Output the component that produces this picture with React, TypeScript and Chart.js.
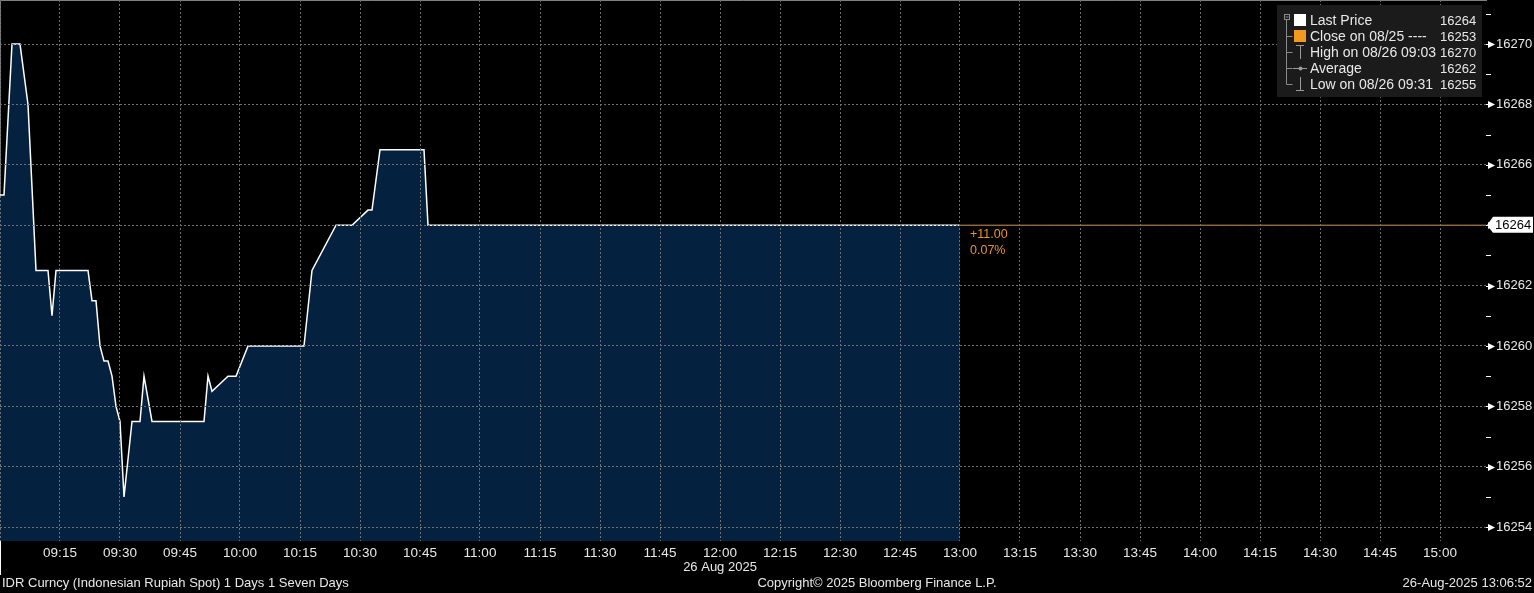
import React, { useEffect, useRef } from "react";
import { Chart, registerables } from "chart.js";

Chart.register(...registerables);

// ---- data ----
const times = [
  "09:00", "09:01", "09:03", "09:05", "09:07", "09:09", "09:12", "09:13", "09:14", "09:22",
  "09:23", "09:24", "09:25", "09:26", "09:27", "09:28", "09:29", "09:30", "09:31", "09:33",
  "09:35", "09:36", "09:38", "09:51", "09:52", "09:53", "09:57", "09:59", "10:02", "10:16",
  "10:18", "10:24", "10:28", "10:32", "10:33", "10:35", "10:46", "10:47", "13:00",
];
const prices = [
  16265, 16265, 16270, 16270, 16268, 16262.5, 16262.5, 16261, 16262.5, 16262.5,
  16261.5, 16261.5, 16260, 16259.5, 16259.5, 16259, 16258, 16257.5, 16255, 16257.5,
  16257.5, 16259, 16257.5, 16257.5, 16259, 16258.5, 16259, 16259, 16260, 16260,
  16262.5, 16264, 16264, 16264.5, 16264.5, 16266.5, 16266.5, 16264, 16264,
];
const xTickLabels = [
  "09:00", "09:15", "09:30", "09:45", "10:00", "10:15", "10:30", "10:45", "11:00", "11:15",
  "11:30", "11:45", "12:00", "12:15", "12:30", "12:45", "13:00", "13:15", "13:30", "13:45",
  "14:00", "14:15", "14:30", "14:45", "15:00",
];
const yTickValues = [16254, 16256, 16258, 16260, 16262, 16264, 16266, 16268, 16270];
const yMinorTickValues = [16255, 16257, 16259, 16261, 16263, 16265, 16267, 16269, 16271];
const legendLabels = ["Last Price", "Close on 08/25 ----", "High on 08/26 09:03", "Average", "Low on 08/26 09:31"];
const legendValues = ["16264", "16253", "16270", "16262", "16255"];
const lastPrice = 16264;
const changeLabel = "+11.00";
const pctLabel = "0.07%";
const dateLabel = "26 Aug 2025";
const dateLabelAt = "12:00";
const footerLeft = "IDR Curncy (Indonesian Rupiah Spot) 1 Days 1 Seven Days";
const footerCenter = "Copyright\u00A9 2025 Bloomberg Finance L.P.";
const footerRight = "26-Aug-2025 13:06:52";

// ---- styling / scale config ----
const X_MIN = 0;
const X_MAX = 371.5;
const Y_MIN = 16253.54;
const Y_MAX = 16271.46;
const FONT = '"Liberation Sans", Arial, sans-serif';
const TXT = "#e8e8e8";
const GRID = "#707070";
const ORANGE = "#e8922c";
const FILL = "#04213f";

const toMin = (t: string) => {
  const [h, m] = t.split(":").map(Number);
  return h * 60 + m - 9 * 60;
};
const fmtMin = (v: number) => {
  const tot = v + 9 * 60;
  const h = Math.floor(tot / 60);
  const m = Math.round(tot % 60);
  return `${String(h).padStart(2, "0")}:${String(m).padStart(2, "0")}`;
};

const overlay = {
  id: "bbgOverlay",
  afterDraw(chart: any) {
    const ctx: CanvasRenderingContext2D = chart.ctx;
    const { left, right, top, bottom } = chart.chartArea;
    const xs = chart.scales.x;
    const ys = chart.scales.y;
    const W = chart.width;
    ctx.save();

    // y-axis arrow markers and minor ticks
    ctx.fillStyle = "#fff";
    ctx.strokeStyle = "#fff";
    ctx.lineWidth = 1;
    yTickValues.forEach((v) => {
      const py = Math.round(ys.getPixelForValue(v)) + 0.5;
      ctx.beginPath();
      ctx.moveTo(right, py);
      ctx.lineTo(right + 3, py);
      ctx.stroke();
      ctx.beginPath();
      ctx.moveTo(right + 2, py - 3.5);
      ctx.lineTo(right + 9, py);
      ctx.lineTo(right + 2, py + 3.5);
      ctx.closePath();
      ctx.fill();
    });
    yMinorTickValues.forEach((v) => {
      const py = Math.round(ys.getPixelForValue(v)) + 0.5;
      if (py < top || py > bottom) return;
      ctx.beginPath();
      ctx.moveTo(right, py);
      ctx.lineTo(right + 5, py);
      ctx.stroke();
    });

    // last price tag
    const lp = ys.getPixelForValue(lastPrice);
    ctx.fillStyle = "#fff";
    ctx.beginPath();
    ctx.moveTo(right + 1, lp);
    ctx.lineTo(right + 7, lp - 8.5);
    ctx.lineTo(W - 1, lp - 8.5);
    ctx.lineTo(W - 1, lp + 7.5);
    ctx.lineTo(right + 7, lp + 7.5);
    ctx.closePath();
    ctx.fill();
    ctx.fillStyle = "#000";
    ctx.font = `13px ${FONT}`;
    ctx.textBaseline = "middle";
    ctx.textAlign = "left";
    ctx.fillText(String(lastPrice), right + 9, lp);

    // change labels
    const endX = xs.getPixelForValue(toMin(times[times.length - 1]));
    ctx.fillStyle = ORANGE;
    ctx.font = `12.5px ${FONT}`;
    ctx.fillText(changeLabel, endX + 10, lp + 9);
    ctx.fillText(pctLabel, endX + 10, lp + 25);

    // day separator below axis
    ctx.strokeStyle = "#fff";
    ctx.beginPath();
    ctx.moveTo(left + 0.5, bottom);
    ctx.lineTo(left + 0.5, bottom + 34);
    ctx.stroke();

    // date label
    ctx.fillStyle = TXT;
    ctx.font = `13px ${FONT}`;
    ctx.textAlign = "center";
    ctx.fillText(dateLabel, xs.getPixelForValue(toMin(dateLabelAt)), bottom + 26);

    // footer
    const fy = bottom + 42;
    ctx.textAlign = "left";
    ctx.fillText(footerLeft, 2, fy);
    ctx.textAlign = "center";
    ctx.fillText(footerCenter, 877, fy);
    ctx.textAlign = "right";
    ctx.fillText(footerRight, W - 2, fy);

    // legend box
    const bx = right - 209;
    const by = top + 5;
    const bw = 205;
    const bh = 92;
    ctx.fillStyle = "#1b1b1b";
    ctx.fillRect(bx, by, bw, bh);
    const rowY = (i: number) => by + 15 + i * 16;
    const treeX = bx + 9.5;
    const iconX = bx + 23;
    ctx.strokeStyle = "#8a8a8a";
    ctx.lineWidth = 1;
    // collapse box
    ctx.strokeRect(bx + 7.5, rowY(0) - 5.5, 5, 5);
    ctx.beginPath();
    ctx.moveTo(bx + 8.5, rowY(0) - 3);
    ctx.lineTo(bx + 11.5, rowY(0) - 3);
    ctx.stroke();
    ctx.beginPath();
    ctx.moveTo(treeX, rowY(0) - 0.5);
    ctx.lineTo(treeX, rowY(4) + 0.5);
    ctx.stroke();
    for (let i = 1; i < 5; i++) {
      const ry = Math.round(rowY(i)) + 0.5;
      ctx.beginPath();
      ctx.moveTo(treeX, ry);
      ctx.lineTo(treeX + 6, ry);
      ctx.stroke();
    }
    // icons
    ctx.fillStyle = "#ffffff";
    ctx.fillRect(iconX - 6, rowY(0) - 6, 12, 12);
    ctx.fillStyle = "#f39a1e";
    ctx.fillRect(iconX - 6, rowY(1) - 6, 12, 12);
    ctx.strokeStyle = "#9a9a9a";
    // high
    ctx.beginPath();
    ctx.moveTo(iconX - 4, rowY(2) - 6.5);
    ctx.lineTo(iconX + 4, rowY(2) - 6.5);
    ctx.moveTo(iconX + 0.5, rowY(2) - 6.5);
    ctx.lineTo(iconX + 0.5, rowY(2) + 7);
    ctx.stroke();
    // average
    ctx.beginPath();
    ctx.moveTo(iconX - 7, rowY(3) + 0.5);
    ctx.lineTo(iconX + 7, rowY(3) + 0.5);
    ctx.stroke();
    ctx.fillStyle = "#9a9a9a";
    ctx.beginPath();
    ctx.arc(iconX + 0.5, rowY(3) + 0.5, 2, 0, Math.PI * 2);
    ctx.fill();
    // low
    ctx.beginPath();
    ctx.moveTo(iconX + 0.5, rowY(4) - 7);
    ctx.lineTo(iconX + 0.5, rowY(4) + 6.5);
    ctx.moveTo(iconX - 4, rowY(4) + 6.5);
    ctx.lineTo(iconX + 4, rowY(4) + 6.5);
    ctx.stroke();
    // texts
    ctx.fillStyle = TXT;
    ctx.textAlign = "left";
    ctx.textBaseline = "middle";
    legendLabels.forEach((l, i) => {
      ctx.font = `14px ${FONT}`;
      ctx.fillText(l, bx + 33, rowY(i) + 1);
      ctx.font = `13px ${FONT}`;
      ctx.fillText(legendValues[i], bx + 163, rowY(i) + 1);
    });

    ctx.restore();
  },
};

export default function App() {
  const ref = useRef<HTMLCanvasElement | null>(null);

  useEffect(() => {
    document.body.style.margin = "0";
    document.body.style.background = "#000";
    const canvas = ref.current;
    if (!canvas) return;

    const mainData = times.map((t, i) => ({ x: toMin(t), y: prices[i] }));
    const lastLine = [
      { x: toMin(times[times.length - 1]), y: lastPrice },
      { x: X_MAX, y: lastPrice },
    ];

    const chart = new Chart(canvas, {
      type: "line",
      data: {
        datasets: [
          {
            data: lastLine,
            borderColor: ORANGE,
            borderWidth: 1,
            pointRadius: 0,
            fill: false,
          },
          {
            data: mainData,
            borderColor: "#ffffff",
            borderWidth: 1.5,
            backgroundColor: FILL,
            fill: "start",
            pointRadius: 0,
            tension: 0,
          },
        ],
      },
      options: {
        animation: false,
        responsive: false,
        maintainAspectRatio: false,
        layout: { padding: 0 },
        plugins: {
          legend: { display: false },
          tooltip: { enabled: false },
        },
        scales: {
          x: {
            type: "linear",
            min: X_MIN,
            max: X_MAX,
            afterBuildTicks: (s: any) => {
              s.ticks = xTickLabels.map((l) => ({ value: toMin(l) }));
            },
            afterFit: (s: any) => {
              s.height = 52;
              s.paddingLeft = 0;
              s.paddingRight = 0;
            },
            grid: { color: GRID, lineWidth: 1, drawTicks: false, z: 1 },
            border: { color: "#ffffff", width: 1, dash: [2, 2] },
            ticks: {
              color: TXT,
              font: { family: FONT, size: 13.5 },
              padding: 4,
              maxRotation: 0,
              autoSkip: false,
              callback: (v: any) => (v === X_MIN ? "" : fmtMin(Number(v))),
            },
          },
          y: {
            type: "linear",
            position: "right",
            min: Y_MIN,
            max: Y_MAX,
            afterBuildTicks: (s: any) => {
              s.ticks = yTickValues.map((v) => ({ value: v }));
            },
            afterFit: (s: any) => {
              s.width = 48;
              s.paddingTop = 0;
              s.paddingBottom = 0;
            },
            grid: { color: GRID, lineWidth: 1, drawTicks: false, z: 1 },
            border: { color: "#ffffff", width: 1, dash: [2, 2] },
            ticks: {
              color: TXT,
              font: { family: FONT, size: 13 },
              padding: 10,
              callback: (v: any) => String(v),
            },
          },
        },
      },
      plugins: [overlay],
    } as any);

    return () => chart.destroy();
  }, []);

  return (
    <div style={{ width: 1534, height: 593, background: "#000" }}>
      <canvas ref={ref} width={1534} height={593} style={{ display: "block" }} />
    </div>
  );
}
